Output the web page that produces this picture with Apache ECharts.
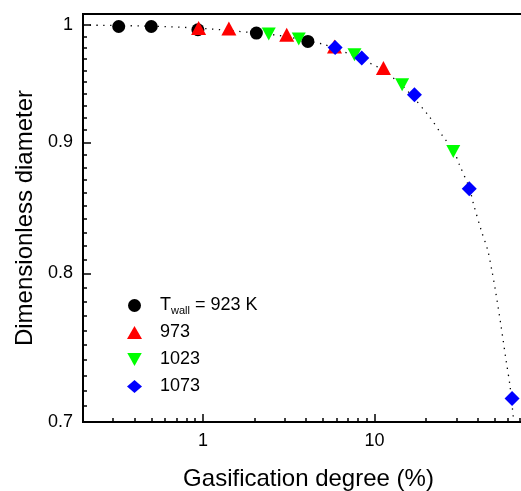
<!DOCTYPE html>
<html><head><meta charset="utf-8">
<script src="https://cdn.jsdelivr.net/npm/echarts@6/dist/echarts.min.js"></script>
<style>html,body{margin:0;padding:0;background:#fff}#c{width:521px;height:491px}</style>
</head><body><div id="c"></div>
<script>
// ---- data ----
const seriesNames = ['Twall = 923 K', '973', '1023', '1073'];
const x923 = [0.323, 0.50, 0.935, 2.05, 4.09];
const y923 = [0.9987, 0.9987, 0.9958, 0.9928, 0.9854];
const x973 = [0.944, 1.417, 3.08, 5.85, 11.28];
const y973 = [0.9973, 0.9970, 0.9913, 0.9810, 0.9621];
const x1023 = [2.42, 3.62, 7.65, 14.5, 28.8];
const y1023 = [0.9919, 0.9875, 0.9737, 0.9478, 0.8927];
const x1073 = [5.90, 8.43, 17.1, 35.7, 63.4];
const y1073 = [0.9801, 0.9708, 0.9393, 0.8633, 0.7150];
const fitX = [0.2, 0.5, 1, 2, 3, 4, 5, 6, 8, 11, 15, 20.9, 25, 29, 31.3, 35.7, 37.7, 41.8, 45.7, 48.2, 50.7, 54.7, 58.5, 61.7, 64.5, 65.5];
const fitY = [1.0, 0.999, 0.997, 0.993, 0.990, 0.986, 0.983, 0.979, 0.971, 0.961, 0.945, 0.921, 0.905, 0.893, 0.882, 0.864, 0.852, 0.832, 0.817, 0.803, 0.788, 0.763, 0.740, 0.723, 0.703, 0.697];
const xMajorTicks = [1, 10];
const xMinorTicks = [0.3, 0.4, 0.5, 0.6, 0.7, 0.8, 0.9, 2, 3, 4, 5, 6, 7, 8, 9, 20, 30, 40, 50, 60, 70, 80, 90];
const yMajorTicks = [0.7, 0.8, 0.9, 1];
const yMinorTicks = [0.71, 0.72, 0.73, 0.74, 0.75, 0.76, 0.77, 0.78, 0.79,
  0.81, 0.82, 0.83, 0.84, 0.85, 0.86, 0.87, 0.88, 0.89,
  0.91, 0.92, 0.93, 0.94, 0.95, 0.96, 0.97, 0.98, 0.99];
const xTitle = 'Gasification degree (%)';
const yTitle = 'Dimensionless diameter';

const FONT = '"Liberation Sans", Arial, sans-serif';
const zip = (a, b) => a.map((v, i) => [v, b[i]]);
const X_MIN = 0.2, X_MAX = 100, Y_MIN = 0.7, Y_MAX = 1.01;

const chart = echarts.init(document.getElementById('c'), null, {renderer: 'canvas'});

function xAxisBase(extra) {
  return Object.assign({
    type: 'log', min: X_MIN, max: X_MAX, position: 'bottom', gridIndex: 0,
    splitLine: {show: false}, minorTick: {show: false},
    axisLine: {show: true, onZero: false, lineStyle: {color: '#000', width: 2}}
  }, extra);
}
function yAxisBase(extra) {
  return Object.assign({
    type: 'log', min: Y_MIN, max: Y_MAX, position: 'left', gridIndex: 0,
    splitLine: {show: false}, minorTick: {show: false},
    axisLine: {show: true, onZero: false, lineStyle: {color: '#000', width: 2}}
  }, extra);
}

const option = {
  animation: false,
  backgroundColor: '#fff',
  grid: {left: 83, top: 14, width: 463, height: 408, containLabel: false, outerBoundsMode: 'none',
    show: true, borderColor: '#000', borderWidth: 2, backgroundColor: 'transparent'},
  legend: {
    data: seriesNames, orient: 'vertical', left: 122, top: 290,
    itemWidth: 15, itemHeight: 13, itemGap: 6, selectedMode: false,
    textStyle: {fontSize: 18, color: '#000', fontFamily: FONT, lineHeight: 21, padding: [0, 0, 0, 13],
      rich: {
        a: {fontSize: 18, color: '#000', fontFamily: FONT, lineHeight: 21},
        s: {fontSize: 11, color: '#000', fontFamily: FONT, lineHeight: 4, verticalAlign: 'bottom'}
      }},
    formatter: function (name) {
      return name === seriesNames[0] ? '{a|T}{s|wall}{a| = 923 K}' : name;
    }
  },
  xAxis: [
    xAxisBase({
      name: xTitle, nameLocation: 'middle', nameGap: 45,
      nameTextStyle: {fontSize: 24, color: '#000', fontFamily: FONT, padding: [0, 12, 0, 0]},
      axisTick: {show: true, inside: true, length: 8, customValues: xMajorTicks, lineStyle: {color: '#000', width: 1.5}},
      axisLabel: {show: true, customValues: xMajorTicks, margin: 10, fontSize: 18, color: '#000', fontFamily: FONT}
    }),
    xAxisBase({
      axisLine: {show: false},
      axisTick: {show: true, inside: true, length: 4, customValues: xMinorTicks, lineStyle: {color: '#000', width: 1.5}},
      axisLabel: {show: false}
    })
  ],
  yAxis: [
    yAxisBase({
      name: yTitle, nameLocation: 'middle', nameGap: 41,
      nameTextStyle: {fontSize: 24, color: '#000', fontFamily: FONT},
      axisTick: {show: true, inside: true, length: 8, customValues: yMajorTicks, lineStyle: {color: '#000', width: 1.5}},
      axisLabel: {show: true, customValues: yMajorTicks, margin: 10, fontSize: 18, color: '#000', fontFamily: FONT}
    }),
    yAxisBase({
      axisLine: {show: false},
      axisTick: {show: true, inside: true, length: 4, customValues: yMinorTicks, lineStyle: {color: '#000', width: 1.5}},
      axisLabel: {show: false}
    })
  ],
  series: [
    {type: 'line', name: 'fit', data: zip(fitX, fitY), smooth: 0.3, showSymbol: false, silent: true, z: 1,
      lineStyle: {color: '#000', width: 1.3, type: [1.3, 5.5]}},
    {type: 'scatter', name: seriesNames[0], data: zip(x923, y923), symbol: 'circle', symbolSize: 13, z: 3,
      itemStyle: {color: '#000000', opacity: 1}},
    {type: 'scatter', name: seriesNames[1], data: zip(x973, y973), symbol: 'triangle', symbolSize: [15, 14], z: 4,
      itemStyle: {color: '#ff0000', opacity: 1}},
    {type: 'scatter', name: seriesNames[2], data: zip(x1023, y1023), symbol: 'path://M0,0 L10,0 L5,9 Z', symbolSize: [14, 13], symbolKeepAspect: false, z: 5,
      itemStyle: {color: '#00ff00', opacity: 1}},
    {type: 'scatter', name: seriesNames[3], data: zip(x1073, y1073), symbol: 'diamond', symbolSize: [15, 15], z: 6,
      itemStyle: {color: '#0000ff', opacity: 1}}
  ]
};
chart.setOption(option);
</script>
</body></html>
